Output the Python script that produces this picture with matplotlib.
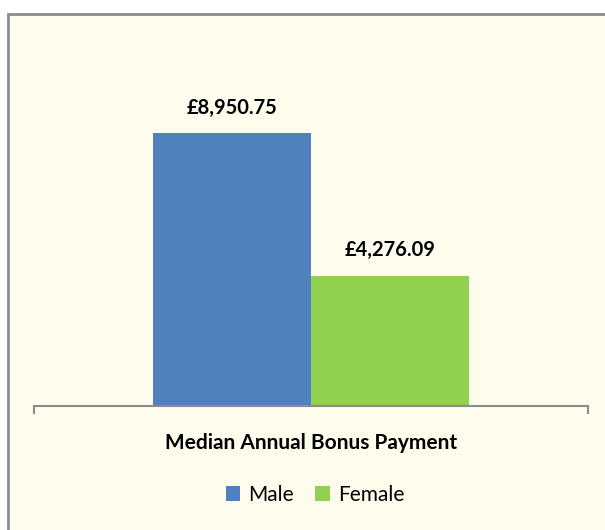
import matplotlib.pyplot as plt
from matplotlib.patches import Rectangle

categories = ["Male", "Female"]
values = [8950.75, 4276.09]
labels = ["£8,950.75", "£4,276.09"]
colors = ["#4F81BD", "#92D050"]
axis_title = "Median Annual Bonus Payment"

plt.rcParams['font.family'] = ['Lato', 'DejaVu Sans']

W, H = 605, 530
fig = plt.figure(figsize=(W / 100, H / 100), dpi=100)
fig.patch.set_facecolor("white")

# chart area box (cut off at right/bottom like the original)
fig.patches.append(Rectangle((8 / W, -0.1), 1.2, (H - 14) / H + 0.1,
                             transform=fig.transFigure, facecolor="#FEFCEC",
                             edgecolor="#8C8C8C", linewidth=2, zorder=0))

ax = fig.add_axes([34 / W, (H - 406) / H, (588 - 34) / W, (406 - 40) / H])
ax.set_facecolor("none")
ax.set_zorder(2)

bw = 158 / 554
offsets = [-bw / 2, bw / 2]
for x, v, c, lab, cat in zip(offsets, values, colors, labels, categories):
    ax.bar(x, v, width=bw, color=c, label=cat, zorder=2)
    ax.text(x, v + 500, lab, ha="center", va="bottom", fontsize=14.5,
            fontweight="bold", color="black")

ax.set_xlim(-0.5, 0.5)
ax.set_ylim(0, 12000)
for s in ["top", "right", "left"]:
    ax.spines[s].set_visible(False)
ax.spines["bottom"].set_color("#8C8C8C")
ax.spines["bottom"].set_linewidth(1.5)
ax.set_yticks([])
ax.set_xticks([-0.5, 0.5])
ax.set_xticklabels([])
ax.tick_params(axis="x", length=6, width=1.5, color="#8C8C8C")

fig.text(311 / W, (H - 443) / H, axis_title, ha="center", va="center",
         fontsize=15, fontweight="bold", zorder=3)

handles, lbls = ax.get_legend_handles_labels()
leg = fig.legend(handles, lbls, loc="center", bbox_to_anchor=(315 / W, (H - 495) / H),
                 ncol=2, frameon=False, fontsize=15, handlelength=0.7, handleheight=0.7,
                 columnspacing=1.0, handletextpad=0.4)
leg.set_zorder(3)

fig.savefig("out.png", dpi=100)
